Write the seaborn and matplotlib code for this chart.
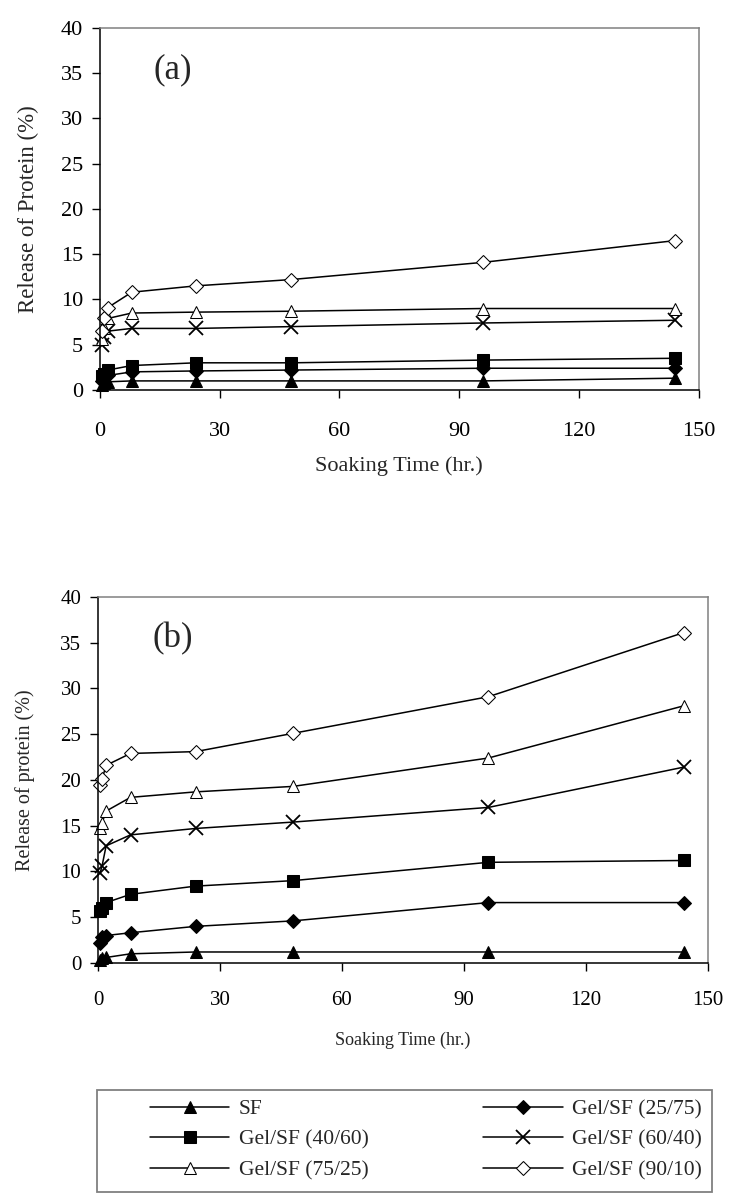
import numpy as np
import pandas as pd
import matplotlib
matplotlib.use("Agg")
import matplotlib.pyplot as plt
from matplotlib.patches import Rectangle
import seaborn as sns

sns.set_theme(style="white")
plt.rcParams["font.family"] = ["Liberation Serif", "DejaVu Serif"]

# Soaking times (hr.)
hours = [0.5, 1, 2, 8, 24, 48, 96, 144]

series_names = ["SF", "Gel/SF (25/75)", "Gel/SF (40/60)",
                "Gel/SF (60/40)", "Gel/SF (75/25)", "Gel/SF (90/10)"]

# (a) release of protein (%)
a_sf = [0.6, 0.8, 0.9, 1.0, 1.0, 1.0, 1.0, 1.3]
a_25 = [1.0, 1.3, 1.6, 2.0, 2.1, 2.2, 2.4, 2.4]
a_40 = [1.5, 1.8, 2.2, 2.7, 3.0, 3.0, 3.3, 3.5]
a_60 = [5.0, 5.8, 6.5, 6.8, 6.8, 7.0, 7.4, 7.7]
a_75 = [5.6, 6.8, 7.9, 8.5, 8.6, 8.7, 9.0, 9.0]
a_90 = [6.5, 8.0, 9.1, 10.8, 11.5, 12.2, 14.1, 16.5]

# (b) release of protein (%)
b_sf = [0.3, 0.5, 0.6, 1.0, 1.2, 1.2, 1.2, 1.2]
b_25 = [2.2, 2.8, 3.0, 3.3, 4.0, 4.6, 6.6, 6.6]
b_40 = [5.7, 6.0, 6.6, 7.5, 8.4, 9.0, 11.0, 11.2]
b_60 = [9.8, 10.6, 12.8, 14.0, 14.7, 15.4, 17.0, 21.4]
b_75 = [14.8, 15.3, 16.6, 18.1, 18.7, 19.3, 22.4, 28.1]
b_90 = [19.4, 20.1, 21.6, 22.9, 23.1, 25.1, 29.1, 36.1]

x_ticks = [0, 30, 60, 90, 120, 150]
y_ticks = [0, 5, 10, 15, 20, 25, 30, 35, 40]

marker_styles = {
    "SF": dict(marker="^", markersize=9, markerfacecolor="black"),
    "Gel/SF (25/75)": dict(marker="D", markersize=7, markerfacecolor="black"),
    "Gel/SF (40/60)": dict(marker="s", markersize=8, markerfacecolor="black"),
    "Gel/SF (60/40)": dict(marker="x", markersize=10, markeredgewidth=1.3),
    "Gel/SF (75/25)": dict(marker="^", markersize=9, markerfacecolor="white"),
    "Gel/SF (90/10)": dict(marker="D", markersize=7, markerfacecolor="white"),
}


def long_frame(values):
    rows = []
    for name, vals in zip(series_names, values):
        for t, v in zip(hours, vals):
            rows.append({"Series": name, "Hours": t, "Release": v})
    return pd.DataFrame(rows)


def draw_panel(ax, df, tag, ylabel, xlabel_size, ylabel_size, tick_size,
               xpad, xlabelpad, ylabelpad):
    for name in series_names:
        sub = df[df["Series"] == name]
        sns.lineplot(data=sub, x="Hours", y="Release", ax=ax, color="black",
                     linewidth=1.1, markeredgecolor="black", label=name,
                     legend=False, clip_on=False, **marker_styles[name])
    ax.set_xlim(0, 150)
    ax.set_ylim(0, 40)
    ax.set_xticks(x_ticks)
    ax.set_yticks(y_ticks)
    ax.tick_params(axis="both", direction="out", length=6, width=1,
                   color="black", labelsize=tick_size, labelcolor="black",
                   bottom=True, left=True)
    ax.tick_params(axis="x", pad=xpad)
    ax.tick_params(axis="y", pad=6)
    ax.set_xlabel("Soaking Time (hr.)", fontsize=xlabel_size,
                  labelpad=xlabelpad)
    ax.set_ylabel(ylabel, fontsize=ylabel_size, labelpad=ylabelpad)
    for side in ["left", "bottom"]:
        ax.spines[side].set_color("black")
        ax.spines[side].set_linewidth(1.1)
    for side in ["top", "right"]:
        ax.spines[side].set_color("#808080")
        ax.spines[side].set_linewidth(1.1)
    ax.text(0.09, 0.93, tag, transform=ax.transAxes, fontsize=25,
            va="top", ha="left")


fig = plt.figure(figsize=(7.34, 11.94), dpi=100)
ax_a = fig.add_axes([0.136, 0.6734, 0.816, 0.3032])
ax_b = fig.add_axes([0.1335, 0.1935, 0.831, 0.3065])

df_a = long_frame([a_sf, a_25, a_40, a_60, a_75, a_90])
df_b = long_frame([b_sf, b_25, b_40, b_60, b_75, b_90])

draw_panel(ax_a, df_a, "(a)", "Release of Protein (%)",
           xlabel_size=16, ylabel_size=16.5, tick_size=16,
           xpad=17, xlabelpad=11, ylabelpad=16)
draw_panel(ax_b, df_b, "(b)", "Release of protein (%)",
           xlabel_size=13, ylabel_size=14.5, tick_size=15,
           xpad=14, xlabelpad=16, ylabelpad=18)

# Legend filled row by row: reorder handles for matplotlib's column-major fill
handles, labels = ax_b.get_legend_handles_labels()
order = [0, 2, 4, 1, 3, 5]
leg = fig.legend([handles[i] for i in order], [labels[i] for i in order],
                 loc="upper left", bbox_to_anchor=(0.204, 0.0795),
                 ncol=2, fontsize=15.5, frameon=False, handlelength=3.7,
                 handletextpad=0.45, columnspacing=5.3, borderpad=0,
                 borderaxespad=0, labelspacing=0.5)

# Legend border
fig.patches.append(Rectangle((0.1322, 0.0017), 0.8379, 0.0854,
                             transform=fig.transFigure, fill=False,
                             edgecolor="#808080", linewidth=1.3))

fig.savefig("out.png", dpi=100, facecolor="white")
